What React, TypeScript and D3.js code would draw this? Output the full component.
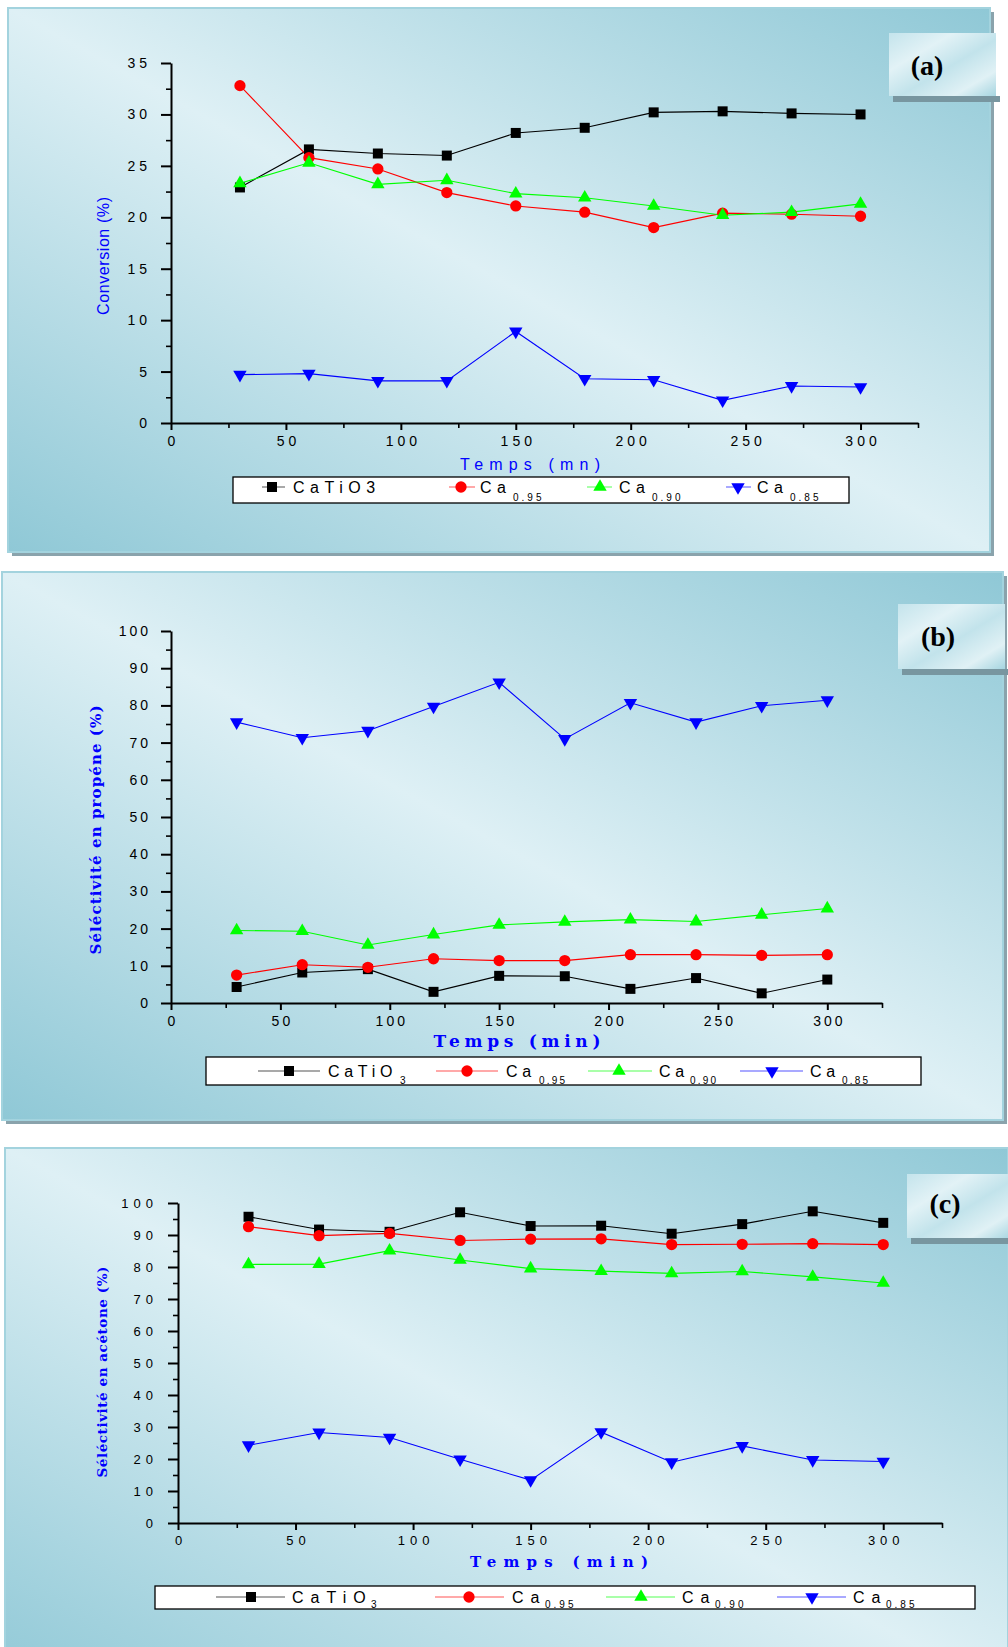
import React, { useRef, useEffect } from 'react';
import * as d3 from 'd3';

// time axis (min)
const times = [30, 60, 90, 120, 150, 180, 210, 240, 270, 300];

// (a) conversion (%)
const convCaTiO3 = [22.9, 26.6, 26.2, 26.0, 28.2, 28.7, 30.2, 30.3, 30.1, 30.0];
const convCa095 = [32.8, 25.8, 24.7, 22.4, 21.1, 20.5, 19.0, 20.4, 20.3, 20.1];
const convCa090 = [23.3, 25.3, 23.2, 23.6, 22.3, 21.9, 21.1, 20.2, 20.5, 21.3];
const convCa085 = [4.7, 4.8, 4.1, 4.1, 8.9, 4.3, 4.2, 2.2, 3.6, 3.5];

// (b) selectivity to propene (%)
const propCaTiO3 = [4.3, 8.2, 9.1, 3.0, 7.3, 7.2, 3.8, 6.7, 2.6, 6.3];
const propCa095 = [7.5, 10.3, 9.6, 11.9, 11.4, 11.4, 13.0, 13.0, 12.8, 13.0];
const propCa090 = [19.5, 19.3, 15.6, 18.4, 21.0, 21.8, 22.4, 21.9, 23.7, 25.4];
const propCa085 = [75.5, 71.3, 73.2, 79.7, 86.2, 71.0, 80.7, 75.5, 79.9, 81.4];

// (c) selectivity to acetone (%)
const acetCaTiO3 = [95.7, 91.7, 91.0, 97.1, 92.8, 92.9, 90.4, 93.4, 97.4, 93.8];
const acetCa095 = [92.6, 89.8, 90.5, 88.3, 88.7, 88.8, 87.0, 87.1, 87.3, 87.0];
const acetCa090 = [80.8, 80.9, 85.1, 82.2, 79.5, 78.7, 78.0, 78.6, 76.9, 75.0];
const acetCa085 = [24.3, 28.3, 26.7, 19.9, 13.4, 28.4, 19.0, 24.1, 19.7, 19.2];

const xMajor = [0, 50, 100, 150, 200, 250, 300];
const xMinor = [25, 75, 125, 175, 225, 275, 325];

const colors = ['#000000', '#ff0000', '#00ff00', '#0000ff'];
const symbols = ['square', 'circle', 'up', 'down'];
const legendMainA = ['CaTiO3', 'Ca', 'Ca', 'Ca'];
const legendMainBC = ['CaTiO', 'Ca', 'Ca', 'Ca'];
const legendSubA = ['', '0.95', '0.90', '0.85'];
const legendSubBC = ['3', '0.95', '0.90', '0.85'];

const BLUE = '#0000ff';
const SANS = 'Liberation Sans, Arial, sans-serif';
const SERIF = 'Liberation Serif, Times New Roman, serif';
const HEAVY = 'DejaVu Serif, Liberation Serif, serif';

const panels = [
  {
    key: 'a',
    rect: [8, 8, 982, 544],
    px: [171, 918], py: [423, 63], yMax: 35, yMajor: [0, 5, 10, 15, 20, 25, 30, 35], yMinor: [2.5, 7.5, 12.5, 17.5, 22.5, 27.5, 32.5],
    series: [convCaTiO3, convCa095, convCa090, convCa085],
    tickFs: 14, tickLs: 4,
    yTitle: { text: 'Conversion (%)', x: 109, y: 256, font: SANS, weight: 400, fs: 16, len: 118 },
    xTitle: { text: 'Temps (mn)', x: 530, y: 470, font: SANS, weight: 400, fs: 16, len: 140 },
    tag: { box: [889, 33, 107, 63], text: '(a)', x: 927, y: 75 },
    legend: {
      box: [233, 477, 616, 26], lineY: 487, base: 493, subBase: 501, ls: 5.5, subLs: 3,
      items: [[262, 285, 272, 293], [449, 475, 461, 480], [587, 612, 600, 619], [726, 751, 738, 757]],
      subDx: [0, 33, 33, 33], main: legendMainA, sub: legendSubA,
    },
  },
  {
    key: 'b',
    rect: [2, 572, 1001, 548],
    px: [171, 882], py: [1003, 631], yMax: 100, yMajor: d3.range(0, 101, 10), yMinor: d3.range(5, 100, 10),
    series: [propCaTiO3, propCa095, propCa090, propCa085],
    tickFs: 14, tickLs: 3,
    yTitle: { text: 'Séléctivité en propéne (%)', x: 101, y: 830, font: HEAVY, weight: 700, fs: 15, len: 249 },
    xTitle: { text: 'Temps (min)', x: 517, y: 1047, font: HEAVY, weight: 700, fs: 17, len: 167 },
    tag: { box: [898, 604, 107, 65], text: '(b)', x: 938, y: 646 },
    legend: {
      box: [206, 1057, 715, 28], lineY: 1071, base: 1077, subBase: 1084, ls: 4.7, subLs: 2.2,
      items: [[258, 320, 289, 328], [436, 498, 467, 506], [588, 652, 619, 659], [740, 803, 772, 810]],
      subDx: [72, 33, 31, 32], main: legendMainBC, sub: legendSubBC,
    },
  },
  {
    key: 'c',
    rect: [5, 1148, 1003, 548],
    px: [178, 942], py: [1523, 1203], yMax: 100, yMajor: d3.range(0, 101, 10), yMinor: d3.range(5, 100, 10),
    series: [acetCaTiO3, acetCa095, acetCa090, acetCa085],
    tickFs: 13, tickLs: 5,
    yTitle: { text: 'Séléctivité en acétone (%)', x: 107, y: 1372, font: HEAVY, weight: 700, fs: 13.5, len: 211 },
    xTitle: { text: 'Temps (min)', x: 559, y: 1567, font: HEAVY, weight: 700, fs: 15, len: 178 },
    tag: { box: [907, 1174, 105, 64], text: '(c)', x: 945, y: 1213 },
    legend: {
      box: [155, 1586, 820, 23], lineY: 1597, base: 1603, subBase: 1608, ls: 7, subLs: 3,
      items: [[216, 285, 251, 292], [435, 504, 469, 512], [606, 675, 641, 682], [777, 846, 812, 853]],
      subDx: [79, 33, 33, 33], main: legendMainBC, sub: legendSubBC,
    },
  },
];

const symbolPath = (kind) => {
  if (kind === 'square') return d3.symbol(d3.symbolSquare, 100)();
  if (kind === 'circle') return d3.symbol(d3.symbolCircle, 100)();
  return d3.symbol(d3.symbolTriangle, 78)();
};

const drawMarker = (g, kind, cx, cy, color) => {
  g.append('path')
    .attr('d', symbolPath(kind))
    .attr('transform', `translate(${cx},${cy})${kind === 'down' ? ' rotate(180)' : ''}`)
    .attr('fill', color);
};

const Panel = ({ cfg }) => {
  const ref = useRef(null);

  useEffect(() => {
    const g = d3.select(ref.current);
    g.selectAll('*').remove();
    const [rx, ry, rw, rh] = cfg.rect;

    // panel + shadow
    g.append('rect').attr('x', rx + 4).attr('y', ry + 4).attr('width', rw).attr('height', rh).attr('fill', '#8aa3ac');
    g.append('rect').attr('x', rx).attr('y', ry).attr('width', rw).attr('height', rh)
      .attr('fill', 'url(#bgGrad)').attr('stroke', '#a3d3de').attr('stroke-width', 2);

    // tag box
    const [tx, ty, tw, th] = cfg.tag.box;
    g.append('rect').attr('x', tx + 4).attr('y', ty + th).attr('width', tw).attr('height', 6).attr('fill', '#7896a0');
    g.append('rect').attr('x', tx).attr('y', ty).attr('width', tw).attr('height', th).attr('fill', 'url(#tagGrad)');
    g.append('text').attr('x', cfg.tag.x).attr('y', cfg.tag.y).attr('text-anchor', 'middle')
      .attr('font-family', SERIF).attr('font-weight', 700).attr('font-size', 28).attr('fill', '#000')
      .text(cfg.tag.text);

    const x = d3.scaleLinear().domain([0, 325]).range(cfg.px);
    const y = d3.scaleLinear().domain([0, cfg.yMax]).range(cfg.py);

    const styleAxis = (sel) => {
      sel.attr('font-family', SANS).attr('font-size', cfg.tickFs);
      sel.select('.domain').attr('stroke-width', 2);
      sel.selectAll('.tick line').attr('stroke-width', 2);
      sel.selectAll('text').attr('letter-spacing', cfg.tickLs).attr('fill', '#000');
    };

    // x axis
    const xa = g.append('g').attr('transform', `translate(0,${cfg.py[0]})`)
      .call(d3.axisBottom(x).tickValues(xMajor).tickSize(7).tickSizeOuter(0).tickPadding(6));
    styleAxis(xa);
    xa.selectAll('text').attr('dx', cfg.tickLs / 2);
    const xm = g.append('g').attr('transform', `translate(0,${cfg.py[0]})`)
      .call(d3.axisBottom(x).tickValues(xMinor).tickSize(5).tickFormat(() => ''));
    xm.select('.domain').remove();
    xm.selectAll('.tick line').attr('stroke-width', 1.6);

    // y axis
    const ya = g.append('g').attr('transform', `translate(${cfg.px[0]},0)`)
      .call(d3.axisLeft(y).tickValues(cfg.yMajor).tickSize(10).tickSizeOuter(0).tickPadding(10));
    styleAxis(ya);
    const ym = g.append('g').attr('transform', `translate(${cfg.px[0]},0)`)
      .call(d3.axisLeft(y).tickValues(cfg.yMinor).tickSize(5).tickFormat(() => ''));
    ym.select('.domain').remove();
    ym.selectAll('.tick line').attr('stroke-width', 1.6);

    // series
    const line = d3.line().x((d) => x(d[0])).y((d) => y(d[1]));
    cfg.series.forEach((vals, i) => {
      const pts = times.map((t, j) => [t, vals[j]]);
      g.append('path').attr('d', line(pts)).attr('fill', 'none').attr('stroke', colors[i]).attr('stroke-width', 1.1);
    });
    cfg.series.forEach((vals, i) => {
      times.forEach((t, j) => drawMarker(g, symbols[i], x(t), y(vals[j]), colors[i]));
    });

    // titles
    const yt = cfg.yTitle;
    g.append('text').attr('transform', `translate(${yt.x},${yt.y}) rotate(-90)`).attr('text-anchor', 'middle')
      .attr('font-family', yt.font).attr('font-weight', yt.weight).attr('font-size', yt.fs).attr('fill', BLUE)
      .attr('textLength', yt.len).attr('lengthAdjust', 'spacing').text(yt.text);
    const xt = cfg.xTitle;
    g.append('text').attr('x', xt.x).attr('y', xt.y).attr('text-anchor', 'middle')
      .attr('font-family', xt.font).attr('font-weight', xt.weight).attr('font-size', xt.fs).attr('fill', BLUE)
      .attr('textLength', xt.len).attr('lengthAdjust', 'spacing').text(xt.text);

    // legend
    const lg = cfg.legend;
    const [bx, by, bw, bh] = lg.box;
    g.append('rect').attr('x', bx).attr('y', by).attr('width', bw).attr('height', bh)
      .attr('fill', '#ffffff').attr('stroke', '#000').attr('stroke-width', 1.3);
    lg.items.forEach(([l0, l1, mx, tx0], i) => {
      g.append('line').attr('x1', l0).attr('x2', l1).attr('y1', lg.lineY).attr('y2', lg.lineY)
        .attr('stroke', colors[i]).attr('stroke-opacity', 0.45).attr('stroke-width', 1.5);
      drawMarker(g, symbols[i], mx, lg.lineY, colors[i]);
      g.append('text').attr('x', tx0).attr('y', lg.base).attr('font-family', SANS).attr('font-size', 16)
        .attr('letter-spacing', lg.ls).attr('fill', '#000').text(lg.main[i]);
      if (lg.sub[i]) {
        g.append('text').attr('x', tx0 + lg.subDx[i]).attr('y', lg.subBase).attr('font-family', SANS)
          .attr('font-size', 10).attr('letter-spacing', lg.subLs).attr('fill', '#000').text(lg.sub[i]);
      }
    });
  }, [cfg]);

  return <g ref={ref} />;
};

const App = () => (
  <svg
    width={1008}
    height={1647}
    style={{ position: 'absolute', left: 0, top: 0, display: 'block', background: '#ffffff' }}
  >
    <defs>
      <linearGradient id="bgGrad" x1="0" y1="1" x2="1" y2="0">
        <stop offset="0" stopColor="#8fc8d6" />
        <stop offset="0.5" stopColor="#def0f5" />
        <stop offset="1" stopColor="#8fc8d6" />
      </linearGradient>
      <linearGradient id="tagGrad" x1="0" y1="0" x2="1" y2="1">
        <stop offset="0" stopColor="#c4e4ec" />
        <stop offset="0.3" stopColor="#e2f2f6" />
        <stop offset="0.55" stopColor="#c2e3eb" />
        <stop offset="0.8" stopColor="#e0f1f5" />
        <stop offset="1" stopColor="#a6d5e0" />
      </linearGradient>
    </defs>
    {panels.map((p) => (
      <Panel key={p.key} cfg={p} />
    ))}
  </svg>
);

export default App;
